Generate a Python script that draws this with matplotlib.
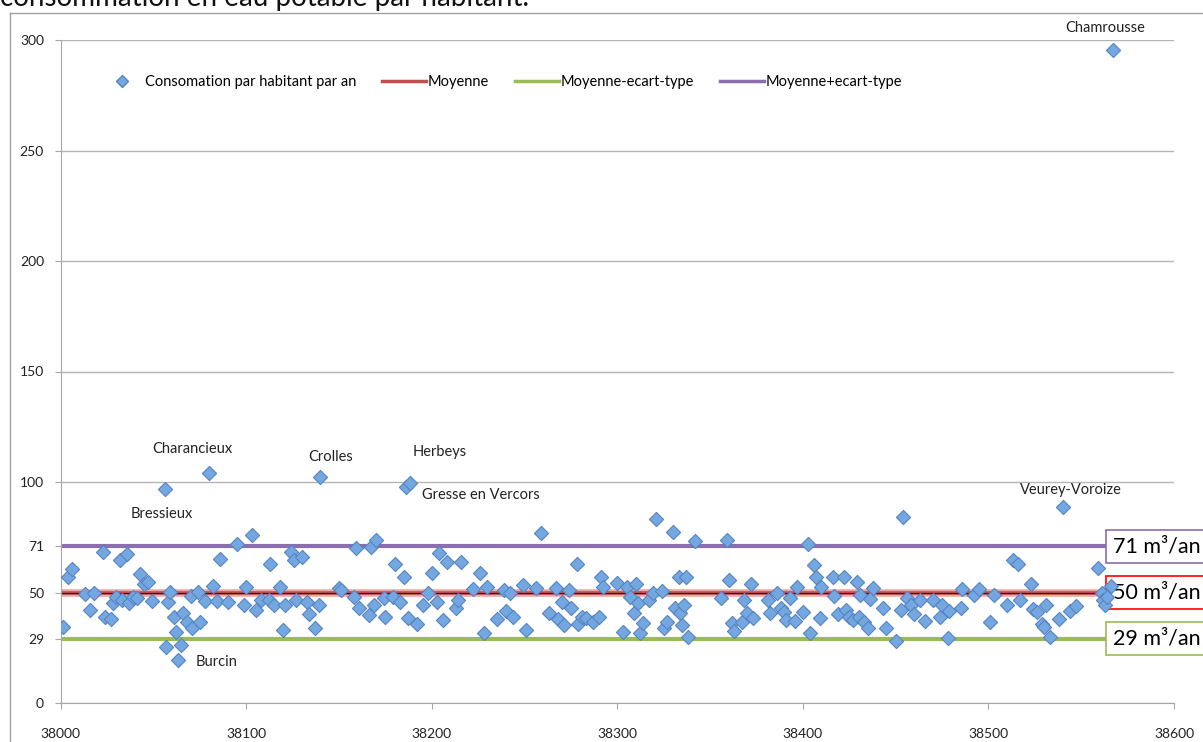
import numpy as np
import matplotlib
matplotlib.use("Agg")
import matplotlib.pyplot as plt
from matplotlib.lines import Line2D

plt.rcParams['font.family'] = ['Lato', 'DejaVu Sans']

# code INSEE de la commune / consommation (m3 par habitant et par an)
codes = np.array([
    38001, 38004, 38006, 38013, 38016, 38018, 38023, 38024, 38027, 38028,
    38030, 38032, 38033, 38036, 38037, 38039, 38041, 38043, 38045, 38047,
    38049, 38056, 38057, 38058, 38059, 38061, 38062, 38063, 38065, 38066,
    38068, 38070, 38071, 38074, 38075, 38078, 38080, 38082, 38084, 38086,
    38090, 38095, 38099, 38100, 38103, 38105, 38108, 38113, 38112, 38115,
    38118, 38120, 38121, 38124, 38126, 38127,
    38130, 38133, 38134, 38137, 38139, 38140, 38150, 38151, 38158, 38159,
    38161, 38166, 38167, 38169, 38170, 38174, 38175, 38179, 38180, 38183,
    38185, 38186, 38188, 38187, 38192, 38195, 38198, 38200, 38203, 38204,
    38208, 38206, 38213, 38214, 38216, 38222, 38226, 38228, 38230, 38235,
    38239, 38240, 38242, 38244, 38249, 38251,
    38256, 38259, 38263, 38267, 38268, 38270, 38271, 38274, 38275, 38278,
    38279, 38281, 38283, 38287, 38290, 38291, 38292, 38300, 38303, 38305,
    38307, 38309, 38310, 38311, 38312, 38314, 38317, 38319, 38321, 38324,
    38325, 38327, 38330, 38331, 38333, 38334, 38335, 38336, 38337, 38338,
    38342, 38356, 38359, 38360, 38362, 38363, 38367, 38368, 38370, 38372,
    38373, 38381, 38382,
    38386, 38388, 38390, 38391, 38393, 38396, 38397, 38400, 38403, 38404,
    38406, 38407, 38409, 38410, 38416, 38417, 38419, 38422, 38423, 38425,
    38427, 38429, 38430, 38431, 38433, 38435, 38436, 38438, 38443, 38445,
    38450, 38453, 38454, 38456, 38458, 38460, 38463, 38466, 38470, 38474,
    38475, 38478, 38479, 38485, 38486, 38492, 38495, 38501, 38503, 38510,
    38513, 38516, 38517, 38523, 38524, 38526, 38529, 38530, 38531, 38533,
    38538, 38540, 38544, 38547, 38559, 38561, 38562, 38563, 38564, 38566,
    38567,
])
conso = np.array([
    34.5, 56.9, 60.6, 49.2, 42.1, 49.6, 68.2, 39.1, 38.0, 45.4,
    48.1, 64.7, 46.6, 67.3, 45.4, 48.1, 47.5, 58.4, 53.7, 54.6,
    46.2, 96.8, 25.5, 45.9, 50.4, 39.1, 32.3, 19.4, 26.2, 40.9,
    36.8, 48.6, 33.8, 50.4, 36.5, 46.2, 104.2, 53.1, 46.2, 65.0,
    45.9, 71.9, 44.3, 52.6, 76.0, 42.1, 46.6, 62.7, 46.6, 44.3,
    52.6, 33.0, 44.3, 68.5, 64.7, 46.6,
    66.2, 45.9, 40.1, 33.8, 44.3, 102.4, 51.9, 51.1, 48.1, 70.0,
    42.8, 39.8, 70.7, 44.3, 73.8, 47.4, 39.1, 48.1, 62.9, 45.9,
    56.9, 97.9, 99.4, 38.6, 35.7, 44.3, 49.6, 58.7, 45.9, 67.7,
    63.9, 37.5, 42.8, 46.6, 63.9, 51.4, 58.7, 31.8, 52.6, 38.0,
    51.1, 41.8, 49.6, 38.8, 53.4, 33.0,
    51.9, 76.8, 40.6, 52.2, 38.0, 45.9, 35.3, 51.1, 42.8, 62.9,
    35.7, 39.1, 38.3, 36.5, 39.1, 57.2, 52.6, 54.4, 32.3, 52.6,
    48.1, 40.6, 53.7, 45.4, 31.5, 36.0, 46.6, 49.9, 83.2, 50.8,
    33.8, 36.8, 77.5, 42.8, 57.2, 40.6, 35.3, 44.3, 57.2, 29.7,
    73.4, 47.4, 73.8, 55.6, 36.0, 32.7, 36.8, 46.6, 40.9, 53.8,
    38.3, 46.6, 40.6,
    49.6, 42.8, 41.3, 37.5, 47.4, 37.0, 52.6, 41.3, 71.9, 31.5,
    62.4, 57.2, 38.3, 52.6, 57.2, 48.4, 40.3, 57.2, 42.1, 39.1,
    37.5, 54.9, 39.1, 48.9, 36.8, 33.8, 46.9, 51.9, 42.8, 33.8,
    28.2, 42.1, 84.3, 47.4, 44.3, 40.3, 46.6, 37.3, 46.6, 39.1,
    44.3, 29.5, 41.8, 43.1, 51.4, 48.9, 51.4, 36.5, 48.9, 44.3,
    64.7, 62.9, 46.6, 53.7, 42.4, 41.3, 35.7, 34.2, 44.3, 30.0,
    38.0, 88.8, 41.8, 43.9, 61.2, 49.6, 46.6, 44.3, 48.1, 52.9,
    295.5,
])

moyenne = 50
ecart_type = 21

# communes nommees sur le graphique
noms = {38567: 'Chamrousse', 38080: 'Charancieux', 38056: 'Bressieux',
        38063: 'Burcin', 38140: 'Crolles', 38188: 'Herbeys',
        38186: 'Gresse en Vercors', 38540: 'Veurey-Voroize'}
decalage = {38567: (-8, 22, 'center'), 38080: (-17, 24, 'center'),
            38056: (-3, -25, 'center'), 38063: (18, -2, 'left'),
            38140: (10, 20, 'center'), 38188: (30, 31, 'center'),
            38186: (16, -8, 'left'), 38540: (8, 17, 'center')}

yticks = [0, 29, 50, 71, 100, 150, 200, 250, 300]
xticks = [38000, 38100, 38200, 38300, 38400, 38500, 38600]

bleu = '#74a7e0'
rouge = '#c0504d'
vert = '#9bbb59'
violet = '#8c6db0'
gris = '#a6a6a6'

fig = plt.figure(figsize=(12.03, 7.42), dpi=100)
W, H = 1203, 742
ax = fig.add_axes([60.7 / W, 1 - 703 / H, (1174 - 60.7) / W, (703 - 40) / H])
ax.set_xlim(38000, 38600)
ax.set_ylim(0, 300)

# cadre du graphique et titre coupe
fig.add_artist(Line2D([10 / W, 10 / W], [0, 1 - 13 / H], color='#a0a0a0', lw=1))
fig.add_artist(Line2D([10 / W, 1], [1 - 13 / H, 1 - 13 / H], color='#a0a0a0', lw=1))
fig.text(0, 1 - 6 / H, 'consommation en eau potable par habitant.', fontsize=20,
         va='baseline', ha='left', color='#111111')

ax.set_yticks(yticks)
ax.set_xticks(xticks)
ax.grid(axis='y', color='#b5b5b5', lw=1, zorder=0)
for s in ['top', 'right']:
    ax.spines[s].set_visible(False)
for s in ['left', 'bottom']:
    ax.spines[s].set_color(gris)
ax.tick_params(axis='both', colors=gris, length=4, labelcolor='#222222', labelsize=10)
ax.tick_params(axis='x', pad=14)
ax.tick_params(axis='y', pad=8)

x0, x1 = codes.min(), codes.max()
ax.plot([x0, x1], [moyenne + ecart_type] * 2, color=violet, lw=3, zorder=2, solid_capstyle='round')
ax.plot([x0, x1], [moyenne - ecart_type] * 2, color=vert, lw=3, zorder=2, solid_capstyle='round')
ax.plot([x0, x1], [moyenne] * 2, color='#e8aaa8', lw=5.5, zorder=2)
ax.plot([x0, x1], [moyenne] * 2, color=rouge, lw=2.6, zorder=2)
ax.axhline(moyenne, color='#222222', lw=0.8, zorder=2.5)

ax.scatter(codes, conso, marker='D', s=52, color=bleu, edgecolor='#5584c2',
           linewidth=0.8, zorder=3)

for code, nom in noms.items():
    dx, dy, ha = decalage[code]
    yv = conso[codes == code][0]
    ax.annotate(nom, xy=(code, yv), xytext=(dx, dy), textcoords='offset pixels',
                ha=ha, va='center', fontsize=10.5, color='#222222', annotation_clip=False)

for val, col in [(moyenne + ecart_type, violet), (moyenne, 'red'), (moyenne - ecart_type, vert)]:
    ax.annotate(f'{val} m³/an', xy=(x1, val), xytext=(0, 0), textcoords='offset pixels',
                ha='left', va='center', fontsize=15.5, color='black', zorder=2.8,
                annotation_clip=False,
                bbox=dict(boxstyle='square,pad=0.3', fc='white', ec=col, lw=1.2))

handles = [
    Line2D([], [], marker='D', ls='none', markersize=6.5, color=bleu, markeredgecolor='#5584c2'),
    Line2D([], [], color=rouge, lw=2.5),
    Line2D([], [], color=vert, lw=2.5),
    Line2D([], [], color=violet, lw=2.5),
]
etiquettes = ['Consomation par habitant par an', 'Moyenne', 'Moyenne-ecart-type', 'Moyenne+ecart-type']
ax.legend(handles, etiquettes, ncol=4, frameon=False, fontsize=10.5, handlelength=3,
          handletextpad=0.1, columnspacing=1.8, loc='center left',
          bbox_to_anchor=(0.035, 0.937), borderpad=0, borderaxespad=0)

fig.savefig('out.png', dpi=100)
